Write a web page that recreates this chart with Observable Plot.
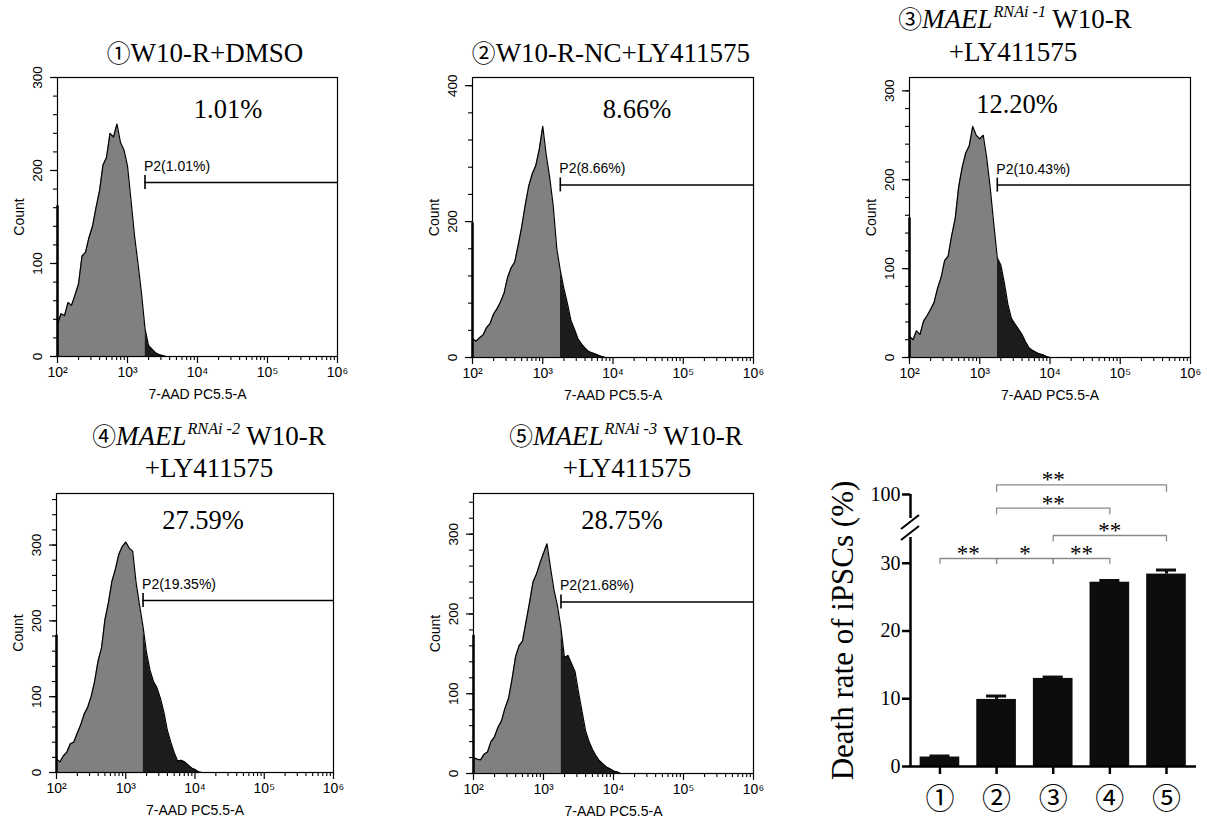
<!DOCTYPE html>
<html><head><meta charset="utf-8">
<script src="https://cdn.jsdelivr.net/npm/d3@7"></script>
<script src="https://cdn.jsdelivr.net/npm/@observablehq/plot@0.6"></script>
<style>
html,body{margin:0;padding:0;background:#fff;}
#fig{position:relative;width:1207px;height:822px;overflow:hidden;background:#fff;}
#fig svg{position:absolute;overflow:visible;}
.lbl{position:absolute;font-family:"Liberation Serif","Times New Roman",serif;color:#000;white-space:nowrap;text-align:center;line-height:1;}
.circ{font-family:"Noto Sans CJK JP","Noto Sans CJK SC","DejaVu Sans",sans-serif;font-size:0.88em;}
.sup{font-size:0.6em;font-style:italic;position:relative;top:-0.72em;margin-left:1px;}
</style></head><body><div id="fig"></div>
<script>
// ---------- DATA ----------
// histogram channel positions (log10 of 7-AAD intensity)
const binLog = [2.00,2.05,2.10,2.15,2.20,2.25,2.30,2.35,2.40,2.45,2.50,2.55,2.60,2.65,2.70,2.75,2.80,2.85,2.90,2.95,3.00,3.05,3.10,3.15,3.20,3.25,3.30,3.35,3.40,3.45,3.50,3.55,3.60,3.65,3.70,3.75,3.80,3.85,3.90,3.95,4.00,4.05,4.10];
const counts1 = [35,46,44,58,55,66,78,108,112,128,140,160,178,206,214,240,236,250,230,222,205,168,130,100,68,30,12,8,4,2,1,0];
const counts2 = [28,24,29,33,44,50,64,72,82,95,118,132,140,165,192,224,252,270,282,306,340,298,264,222,160,128,102,80,55,42,28,20,14,9,7,5,3,1,0];
const counts3 = [24,20,30,26,41,47,54,62,78,90,109,114,137,156,192,214,230,238,260,250,246,250,224,190,150,112,104,84,60,44,38,32,26,18,11,8,6,4,3,1,0];
const counts4 = [18,14,22,27,38,40,52,63,77,86,100,120,147,164,202,224,252,268,288,298,304,296,292,250,220,192,158,135,120,112,98,80,56,40,26,15,16,14,10,6,4,1,0];
const counts5 = [20,18,17,24,27,40,46,58,66,82,94,118,146,160,166,190,214,240,250,264,276,288,258,230,210,182,145,148,138,128,102,78,54,40,30,22,16,12,8,6,3,2,0];
const histCounts = [counts1, counts2, counts3, counts4, counts5];
const edgeCounts = [162, 198, 157, 181, 173];      // pile-up at the 10^2 edge
const gateLog = 3.25;                              // P2 gate start (log10)
const gateCounts = [187, 254, 194, 227, 215];      // height of the P2 gate marker
const gateLabels = ["P2(1.01%)", "P2(8.66%)", "P2(10.43%)", "P2(19.35%)", "P2(21.68%)"];
const deadPercents = ["1.01%", "8.66%", "12.20%", "27.59%", "28.75%"];
const countMax = [300, 412, 315, 368, 351];
const countMajor = [[0,100,200,300],[0,200,400],[0,100,200,300],[0,100,200,300],[0,100,200,300]];
const countMinorStep = [20, 40, 20, 20, 20];
const xMajor = [1e2, 1e3, 1e4, 1e5, 1e6];
const xMajorLabels = ["10\u00B2", "10\u00B3", "10\u2074", "10\u2075", "10\u2076"];
const xLabel = "7-AAD PC5.5-A";
const yLabel = "Count";

// bar chart
const barGroups = ["①", "②", "③", "④", "⑤"];
const barIndex = [1, 2, 3, 4, 5];
const deathRate = [1.4, 9.9, 13.0, 27.2, 28.4];
const deathSem = [0.15, 0.5, 0.2, 0.25, 0.6];
const barTicks = [0, 10, 20, 30, 100];
const yBreakLow = 33.8, yBreakHigh = 96.45;
const sigFrom = [1, 2, 3, 3, 2, 2];
const sigTo = [2, 3, 4, 5, 4, 5];
const sigMark = ["**", "*", "**", "**", "**", "**"];
const sigLevel = [30.7, 30.7, 30.7, 40.4, 97.97, 101.43];
const sigDrop = [30.0, 30.0, 30.0, 33.3, 97.14, 100.48];
const sigLabelAt = [1.5, 2.5, 3.5, 4, 3, 3];
const barYLabel = "Death rate of iPSCs (%)";

// ---------- LAYOUT ----------
const fig = document.getElementById("fig");
const sans = '"Liberation Sans", Arial, sans-serif';
const serif = '"Liberation Serif", "Times New Roman", serif';
const circFont = '"Noto Sans CJK JP", "Noto Sans CJK SC", "DejaVu Sans", sans-serif';
const frames = [
  {left: 57, top: 77, w: 280, h: 279},
  {left: 472, top: 77, w: 281, h: 280},
  {left: 909, top: 77, w: 281, h: 280},
  {left: 56, top: 493, w: 277, h: 279},
  {left: 473, top: 493, w: 280, h: 280}
];
const xMinor = [];
for (let e = 2; e < 6; e++) for (let k = 2; k <= 9; k++) xMinor.push(k * 10 ** e);

function histogram(k) {
  const f = frames[k];
  const mL = 60, mR = 20, mT = 12, mB = 55;
  const pts = histCounts[k].map((c, i) => ({x: 10 ** binLog[i], c}));
  const gi = binLog.findIndex(v => Math.abs(v - gateLog) < 1e-9);
  const gateX = 10 ** gateLog;
  const minor = d3.range(0, countMax[k] + 1e-9, countMinorStep[k]);
  const halfTick = 7 * countMax[k] / f.h;
  const svg = Plot.plot({
    width: f.w + mL + mR, height: f.h + mT + mB,
    marginLeft: mL, marginRight: mR, marginTop: mT, marginBottom: mB,
    style: {fontFamily: sans, fontSize: "14px", color: "#000", background: "transparent", overflow: "visible"},
    x: {type: "log", domain: [1e2, 1e6], label: null},
    y: {domain: [0, countMax[k]], label: null},
    marks: [
      Plot.areaY(pts.slice(0, gi + 1), {x: "x", y: "c", fill: "#808080", curve: "linear"}),
      Plot.areaY(pts.slice(gi), {x: "x", y: "c", fill: "#1c1c1c", curve: "linear"}),
      Plot.lineY(pts, {x: "x", y: "c", stroke: "#000", strokeWidth: 1.2}),
      Plot.ruleX([{x: 1e2, c: edgeCounts[k]}], {x: "x", y1: 0, y2: "c", stroke: "#000", strokeWidth: 2.5}),
      Plot.frame({stroke: "#000", strokeWidth: 1.2}),
      Plot.axisX({ticks: xMinor, tickSize: 4, tickFormat: () => "", label: null, strokeWidth: 1.1}),
      Plot.axisX({ticks: xMajor, tickSize: 7, tickFormat: () => "", label: null, strokeWidth: 1.2}),
      Plot.text(xMajor, {x: d => d, text: (d, i) => xMajorLabels[i], frameAnchor: "bottom", lineAnchor: "top", textAnchor: "middle", dy: 11, fontSize: 14}),
      Plot.text([xLabel], {text: d => d, frameAnchor: "bottom", lineAnchor: "top", textAnchor: "middle", dy: 33, fontSize: 14}),
      Plot.axisY({ticks: minor, tickSize: 4, tickFormat: () => "", label: null, strokeWidth: 1.1}),
      Plot.axisY({ticks: countMajor[k], tickSize: 7, tickFormat: () => "", label: null, strokeWidth: 1.2}),
      Plot.text(countMajor[k], {y: d => d, text: d => String(d), frameAnchor: "left", textAnchor: "middle", lineAnchor: "middle", rotate: -90, dx: -20, fontSize: 13.5}),
      Plot.text([yLabel], {text: d => d, frameAnchor: "left", textAnchor: "middle", lineAnchor: "middle", rotate: -90, dx: -38, fontSize: 14}),
      Plot.ruleY([gateCounts[k]], {x1: gateX, x2: 1e6, stroke: "#000", strokeWidth: 1.5}),
      Plot.ruleX([gateX], {y1: gateCounts[k] - halfTick, y2: gateCounts[k] + halfTick, stroke: "#000", strokeWidth: 1.6}),
      Plot.text([gateLabels[k]], {x: gateX, y: gateCounts[k], text: d => d, textAnchor: "start", dy: -16, dx: -1, fontSize: 14})
    ]
  });
  svg.style.left = (f.left - mL) + "px";
  svg.style.top = (f.top - mT) + "px";
  fig.appendChild(svg);
}
for (let k = 0; k < 5; k++) histogram(k);

function label(html, cx, baseline, size) {
  const d = document.createElement("div");
  d.className = "lbl";
  d.style.left = (cx - 300) + "px";
  d.style.width = "600px";
  d.style.fontSize = size + "px";
  d.style.top = (baseline - 0.8375 * size) + "px";
  d.innerHTML = html;
  fig.appendChild(d);
}
const c = s => `<span class="circ">${s}</span>`;
const T = 27;
label(`${c("①")}W10-R+DMSO`, 205, 63, T);
label(`${c("②")}W10-R-NC+LY411575`, 611, 63, T);
label(`${c("③")}<i>MAEL</i><span class="sup">RNAi -1</span> W10-R`, 1015, 29, T);
label(`+LY411575`, 1013, 62, T);
label(`${c("④")}<i>MAEL</i><span class="sup">RNAi -2</span> W10-R`, 209, 446, T);
label(`+LY411575`, 209, 478, T);
label(`${c("⑤")}<i>MAEL</i><span class="sup">RNAi -3</span> W10-R`, 626, 446, T);
label(`+LY411575`, 627, 478, T);
const pctPos = [[228, 118], [637, 118], [1017, 113], [203, 529], [622, 529]];
deadPercents.forEach((p, i) => label(p, pctPos[i][0], pctPos[i][1], 26.5));

// ---------- BAR CHART ----------
const bars = barIndex.map((g, i) => ({g, v: deathRate[i], e: deathSem[i]}));
const halfBar = 0.35, halfCap = 0.177;
const xDom = [0.48, 5.53];
const brackets = [];
sigFrom.forEach((a, i) => {
  const b = sigTo[i];
  brackets.push({id: i, x: a, y: sigDrop[i]}, {id: i, x: a, y: sigLevel[i]}, {id: i, x: b, y: sigLevel[i]}, {id: i, x: b, y: sigDrop[i]});
});
const sig = sigMark.map((m, i) => ({m, x: sigLabelAt[i], y: sigLevel[i]}));
const barSvg = Plot.plot({
  width: 407, height: 412, marginLeft: 110, marginRight: 11, marginTop: 84, marginBottom: 56,
  style: {fontFamily: serif, fontSize: "20px", color: "#000", background: "transparent", overflow: "visible"},
  x: {type: "linear", domain: xDom, label: null},
  y: {type: "linear", domain: [0, yBreakLow, yBreakHigh, 110], range: [356, 127, 108, 16.3], label: null},
  marks: [
    Plot.rectY(bars, {x1: d => d.g - halfBar, x2: d => d.g + halfBar, y1: 0, y2: "v", fill: "#0d0d0d"}),
    Plot.ruleX(bars, {x: "g", y1: "v", y2: d => d.v + d.e, stroke: "#0d0d0d", strokeWidth: 3}),
    Plot.ruleY(bars, {y: d => d.v + d.e, x1: d => d.g - halfCap, x2: d => d.g + halfCap, stroke: "#0d0d0d", strokeWidth: 3}),
    Plot.ruleX([xDom[0]], {y1: 0, y2: yBreakLow, stroke: "#000", strokeWidth: 2.5}),
    Plot.ruleX([xDom[0]], {y1: yBreakHigh, y2: 100, stroke: "#000", strokeWidth: 2.5}),
    Plot.ruleY([0], {stroke: "#000", strokeWidth: 2.5}),
    (index, scales, values, dimensions) => {
      const y = scales.y, x0 = dimensions.marginLeft;
      const g = d3.create("svg:g").attr("stroke", "#000").attr("stroke-width", 2);
      for (const yc of [y(yBreakLow) - 4, y(yBreakHigh) + 4]) {
        g.append("line").attr("x1", x0 - 9).attr("y1", yc + 7).attr("x2", x0 + 9).attr("y2", yc - 7);
      }
      return g.node();
    },
    Plot.axisY({ticks: barTicks, tickSize: 8, tickPadding: 2, strokeWidth: 2.5, fontSize: 20, fontFamily: serif, label: null}),
    Plot.axisX({ticks: barIndex, tickSize: 8, tickPadding: 14, strokeWidth: 2.5, tickFormat: d => barGroups[d - 1], fontSize: 29, fontFamily: circFont, label: null}),
    Plot.text([barYLabel], {text: d => d, frameAnchor: "left", textAnchor: "middle", lineAnchor: "middle", rotate: -90, dx: -67, dy: 0, fontSize: 31, fontFamily: serif}),
    Plot.line(brackets, {x: "x", y: "y", z: "id", stroke: "#8a8a8a", strokeWidth: 1.3}),
    Plot.text(sig, {x: "x", y: "y", text: "m", dy: -5, fontSize: 23, fontFamily: serif})
  ]
});
barSvg.style.left = "800px";
barSvg.style.top = "410px";
fig.appendChild(barSvg);
</script></body></html>
